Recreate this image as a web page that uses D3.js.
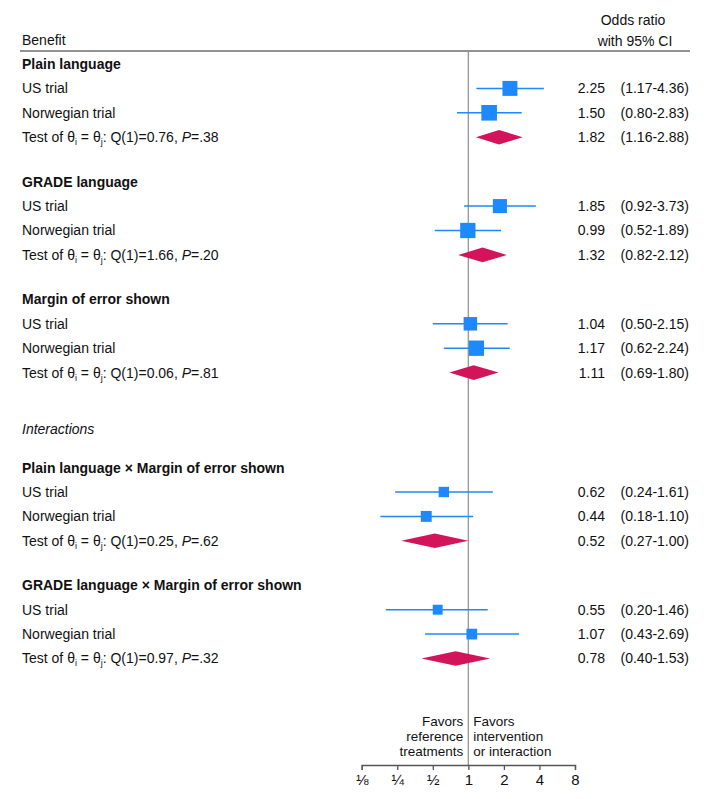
<!DOCTYPE html>
<html>
<head>
<meta charset="utf-8">
<script src="https://cdn.jsdelivr.net/npm/d3@7"></script>
<style>
  body { margin: 0; background: #fff; }
  svg text { font-family: "Liberation Sans", Arial, Helvetica, sans-serif; fill: #111; }
</style>
</head>
<body>
<div id="forest-container"></div>
<script>
// data
const groups = [
  "Plain language",
  "GRADE language",
  "Margin of error shown",
  "Plain language × Margin of error shown",
  "GRADE language × Margin of error shown"
];
const trials = ["US trial", "Norwegian trial"];

const usOR = [2.25, 1.85, 1.04, 0.62, 0.55];
const usLo = [1.17, 0.92, 0.50, 0.24, 0.20];
const usHi = [4.36, 3.73, 2.15, 1.61, 1.46];

const noOR = [1.50, 0.99, 1.17, 0.44, 1.07];
const noLo = [0.80, 0.52, 0.62, 0.18, 0.43];
const noHi = [2.83, 1.89, 2.24, 1.10, 2.69];

const pooledOR = [1.82, 1.32, 1.11, 0.52, 0.78];
const pooledLo = [1.16, 0.82, 0.69, 0.27, 0.40];
const pooledHi = [2.88, 2.12, 1.80, 1.00, 1.53];

const qStat = ["0.76", "1.66", "0.06", "0.25", "0.97"];
const pVal = [".38", ".20", ".81", ".62", ".32"];

const tickValues = [1 / 8, 1 / 4, 1 / 2, 1, 2, 4, 8];
const tickLabels = ["⅛", "¼", "½", "1", "2", "4", "8"];

{
  const color = {
    blue: "#1e88ff",
    crimson: "#d4145a",
    refLine: "#9a9a9a",
    rule: "#6e6e6e",
    axis: "#555"
  };

  const W = 712, H = 799;
  const svg = d3.select("#forest-container").append("svg")
    .attr("width", W).attr("height", H)
    .attr("viewBox", `0 0 ${W} ${H}`);

  // x scale (log 2)
  const x = d3.scaleLog().base(2).domain([1 / 8, 8]).range([361.7, 575]);

  // build row list
  const rows = [];
  let y = 64;
  const step = 24.4;
  groups.forEach((g, i) => {
    if (i === 3) {
      y += 56;
      rows.push({ kind: "section", label: "Interactions", y });
      y += 39;
    } else if (i > 0) {
      y += 44.5;
    }
    rows.push({ kind: "header", label: g, y });
    y += step;
    rows.push({ kind: "study", label: trials[0], or: usOR[i], lo: usLo[i], hi: usHi[i], y });
    y += step;
    rows.push({ kind: "study", label: trials[1], or: noOR[i], lo: noLo[i], hi: noHi[i], y });
    y += step;
    rows.push({ kind: "pooled", q: qStat[i], p: pVal[i], or: pooledOR[i], lo: pooledLo[i], hi: pooledHi[i], y });
  });

  // marker area follows inverse-variance weight
  const studies = rows.filter(r => r.kind === "study");
  studies.forEach(r => {
    const se = Math.log(r.hi / r.lo) / 3.92;
    r.w = 1 / (se * se);
  });
  const size = d3.scaleSqrt().domain([0, d3.max(studies, d => d.w)]).range([0, 15.6]);

  const fmt = d3.format(".2f");
  const leftX = 22;
  const axisY = 765;
  const topY = 51;

  // header
  svg.append("text").attr("x", leftX).attr("y", 40).attr("dy", "0.35em")
    .attr("font-size", 14).text("Benefit");
  svg.append("text").attr("x", 633).attr("y", 20).attr("dy", "0.35em")
    .attr("font-size", 14).attr("text-anchor", "middle").text("Odds ratio");
  svg.append("text").attr("x", 635).attr("y", 41).attr("dy", "0.35em")
    .attr("font-size", 14).attr("text-anchor", "middle").text("with 95% CI");
  svg.append("line").attr("x1", 20).attr("x2", 690).attr("y1", topY).attr("y2", topY)
    .attr("stroke", color.rule).attr("stroke-width", 1.6);

  // reference line at OR = 1
  svg.append("line").attr("x1", x(1)).attr("x2", x(1)).attr("y1", topY).attr("y2", axisY)
    .attr("stroke", color.refLine).attr("stroke-width", 1.4);

  // left labels
  const labels = svg.append("g");
  rows.forEach(r => {
    const t = labels.append("text").attr("x", leftX).attr("y", r.y).attr("dy", "0.35em")
      .attr("font-size", 14);
    if (r.kind === "header") t.attr("font-weight", "bold").text(r.label);
    else if (r.kind === "section") t.attr("font-style", "italic").text(r.label);
    else if (r.kind === "study") t.text(r.label);
    else {
      t.append("tspan").text("Test of θ");
      t.append("tspan").attr("font-size", 9).attr("dy", 3).text("i");
      t.append("tspan").attr("dy", -3).text(" = θ");
      t.append("tspan").attr("font-size", 9).attr("dy", 3).text("j");
      t.append("tspan").attr("dy", -3).text(`: Q(1)=${r.q}, `);
      t.append("tspan").attr("font-style", "italic").text("P");
      t.append("tspan").text(`=${r.p}`);
    }
  });

  // CI lines and squares
  const marks = svg.append("g");
  marks.selectAll("line.ci").data(studies).enter().append("line")
    .attr("class", "ci")
    .attr("x1", d => x(d.lo)).attr("x2", d => x(d.hi))
    .attr("y1", d => d.y).attr("y2", d => d.y)
    .attr("stroke", color.blue).attr("stroke-width", 1.5);
  marks.selectAll("rect").data(studies).enter().append("rect")
    .attr("x", d => x(d.or) - size(d.w) / 2)
    .attr("y", d => d.y - size(d.w) / 2)
    .attr("width", d => size(d.w))
    .attr("height", d => size(d.w))
    .attr("fill", color.blue);

  // pooled diamonds
  const pooled = rows.filter(r => r.kind === "pooled");
  marks.selectAll("path").data(pooled).enter().append("path")
    .attr("d", d => `M${x(d.lo)},${d.y} L${x(d.or)},${d.y - 7.3} L${x(d.hi)},${d.y} L${x(d.or)},${d.y + 7.3} Z`)
    .attr("fill", color.crimson);

  // numbers column
  const nums = rows.filter(r => r.kind === "study" || r.kind === "pooled");
  const numG = svg.append("g");
  nums.forEach(r => {
    numG.append("text").attr("x", 605).attr("y", r.y).attr("dy", "0.35em")
      .attr("text-anchor", "end").attr("font-size", 14).text(fmt(r.or));
    numG.append("text").attr("x", 689).attr("y", r.y).attr("dy", "0.35em")
      .attr("text-anchor", "end").attr("font-size", 14).text(`(${fmt(r.lo)}-${fmt(r.hi)})`);
  });

  // x axis
  const xAxis = d3.axisBottom(x)
    .tickValues(tickValues)
    .tickFormat((d, i) => tickLabels[i])
    .tickSize(5)
    .tickPadding(4);
  const ax = svg.append("g").attr("transform", `translate(0, ${axisY})`).call(xAxis);
  ax.select(".domain").attr("stroke", color.axis).attr("stroke-width", 1.3);
  ax.selectAll(".tick line").attr("stroke", color.axis).attr("stroke-width", 1.3);
  ax.selectAll(".tick text").attr("font-size", 15).attr("fill", "#111")
    .attr("font-family", "\"Liberation Sans\", Arial, sans-serif");

  // favors labels
  const leftLines = ["Favors", "reference", "treatments"];
  const rightLines = ["Favors", "intervention", "or interaction"];
  leftLines.forEach((s, i) => {
    svg.append("text").attr("x", x(1) - 5).attr("y", 721 + i * 15).attr("dy", "0.35em")
      .attr("text-anchor", "end").attr("font-size", 13.5).text(s);
  });
  rightLines.forEach((s, i) => {
    svg.append("text").attr("x", x(1) + 5).attr("y", 721 + i * 15).attr("dy", "0.35em")
      .attr("font-size", 13.5).text(s);
  });
}
</script>
</body>
</html>
